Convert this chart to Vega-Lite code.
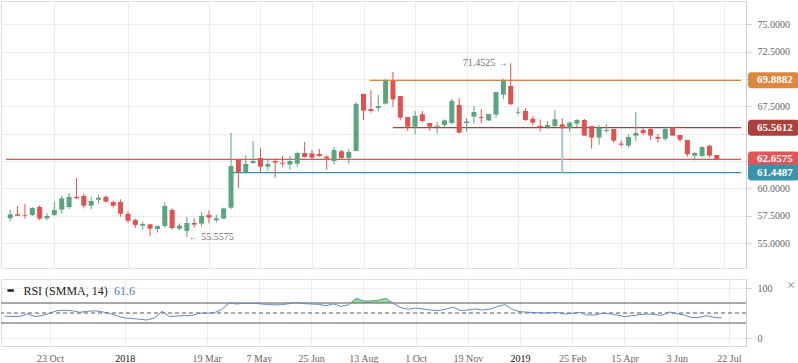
{
  "$schema": "https://vega.github.io/schema/vega-lite/v6.json",
  "padding": 0,
  "spacing": 8,
  "background": "white",
  "config": {
    "font": "Liberation Serif",
    "view": {"stroke": "#dedede"},
    "axis": {"labelFont": "Liberation Serif", "labelFontSize": 10, "labelColor": "#666", "gridColor": "#ececec", "domainColor": "#d0d0d0", "tickColor": "#d0d0d0"}
  },
  "datasets": {
    "candles": [
      {"d":"2017-09-11","o":57.27,"h":58.03,"l":57.02,"c":57.63,"r":43.3},
      {"d":"2017-09-18","o":57.63,"h":58.39,"l":57.48,"c":57.51,"r":43},
      {"d":"2017-09-25","o":57.57,"h":58.58,"l":57.24,"c":57.51,"r":43.5},
      {"d":"2017-10-02","o":57.57,"h":58.27,"l":57.48,"c":58.21,"r":48},
      {"d":"2017-10-09","o":58.30,"h":58.46,"l":57.08,"c":57.24,"r":42.7},
      {"d":"2017-10-16","o":57.27,"h":57.75,"l":57.08,"c":57.48,"r":45},
      {"d":"2017-10-23","o":57.57,"h":58.76,"l":57.48,"c":58.03,"r":50},
      {"d":"2017-10-30","o":58.06,"h":59.37,"l":57.69,"c":59.10,"r":54.7},
      {"d":"2017-11-06","o":58.30,"h":59.58,"l":58.09,"c":59.22,"r":55.5},
      {"d":"2017-11-13","o":59.22,"h":60.96,"l":59.06,"c":59.10,"r":54.5},
      {"d":"2017-11-20","o":59.31,"h":59.55,"l":58.18,"c":58.42,"r":51.3},
      {"d":"2017-11-27","o":58.42,"h":59.25,"l":58.06,"c":58.85,"r":53.5},
      {"d":"2017-12-04","o":58.97,"h":59.40,"l":58.61,"c":59.16,"r":54.3},
      {"d":"2017-12-11","o":59.22,"h":59.37,"l":58.70,"c":58.79,"r":52.5},
      {"d":"2017-12-18","o":58.76,"h":58.88,"l":58.24,"c":58.42,"r":49},
      {"d":"2017-12-25","o":58.76,"h":59.00,"l":57.42,"c":57.69,"r":44},
      {"d":"2018-01-01","o":57.66,"h":57.91,"l":56.87,"c":57.05,"r":40},
      {"d":"2018-01-08","o":57.11,"h":57.24,"l":56.38,"c":56.66,"r":39},
      {"d":"2018-01-15","o":56.60,"h":56.93,"l":56.23,"c":56.75,"r":37.5},
      {"d":"2018-01-22","o":56.72,"h":56.78,"l":55.62,"c":56.32,"r":36},
      {"d":"2018-01-29","o":56.29,"h":56.60,"l":55.95,"c":56.56,"r":40},
      {"d":"2018-02-05","o":56.56,"h":58.76,"l":56.41,"c":58.39,"r":53.3},
      {"d":"2018-02-12","o":58.03,"h":58.18,"l":56.23,"c":56.38,"r":43},
      {"d":"2018-02-19","o":56.32,"h":56.81,"l":56.20,"c":56.60,"r":44},
      {"d":"2018-02-26","o":56.11,"h":57.39,"l":55.5575,"c":56.84,"r":44.7},
      {"d":"2018-03-05","o":56.84,"h":57.27,"l":56.41,"c":56.69,"r":44.7},
      {"d":"2018-03-12","o":56.78,"h":57.84,"l":56.50,"c":57.48,"r":50},
      {"d":"2018-03-19","o":57.57,"h":58.00,"l":56.81,"c":57.33,"r":49.5},
      {"d":"2018-03-26","o":57.08,"h":57.63,"l":56.87,"c":57.27,"r":50.5},
      {"d":"2018-04-02","o":57.24,"h":58.24,"l":57.18,"c":58.18,"r":56.7},
      {"d":"2018-04-09","o":58.24,"h":65.07,"l":58.10,"c":62.05,"r":70},
      {"d":"2018-04-16","o":62.66,"h":62.70,"l":60.07,"c":61.50,"r":68},
      {"d":"2018-04-23","o":61.50,"h":63.03,"l":61.35,"c":62.24,"r":69.3},
      {"d":"2018-04-30","o":62.33,"h":64.34,"l":62.27,"c":62.51,"r":69},
      {"d":"2018-05-07","o":62.79,"h":63.70,"l":61.50,"c":61.99,"r":68.7},
      {"d":"2018-05-14","o":61.99,"h":62.76,"l":61.63,"c":62.24,"r":67},
      {"d":"2018-05-21","o":62.51,"h":62.76,"l":60.99,"c":62.36,"r":66.2},
      {"d":"2018-05-28","o":62.36,"h":62.97,"l":61.99,"c":62.27,"r":66.7},
      {"d":"2018-06-04","o":62.18,"h":62.97,"l":61.72,"c":62.51,"r":68.5},
      {"d":"2018-06-11","o":62.27,"h":63.37,"l":61.99,"c":63.24,"r":70.7},
      {"d":"2018-06-18","o":63.24,"h":64.25,"l":62.82,"c":62.88,"r":68.7},
      {"d":"2018-06-25","o":63.21,"h":63.52,"l":62.63,"c":62.82,"r":68},
      {"d":"2018-07-02","o":63.15,"h":63.61,"l":62.88,"c":62.97,"r":67.2},
      {"d":"2018-07-09","o":62.91,"h":63.03,"l":61.72,"c":62.73,"r":64.7},
      {"d":"2018-07-16","o":62.51,"h":63.79,"l":62.18,"c":63.52,"r":68},
      {"d":"2018-07-23","o":63.40,"h":63.52,"l":62.70,"c":62.79,"r":63.3},
      {"d":"2018-07-30","o":62.79,"h":63.61,"l":62.27,"c":63.34,"r":66.5},
      {"d":"2018-08-06","o":63.43,"h":67.91,"l":63.40,"c":67.73,"r":79.3},
      {"d":"2018-08-13","o":68.64,"h":68.64,"l":66.26,"c":67.12,"r":74},
      {"d":"2018-08-20","o":67.27,"h":69.01,"l":66.93,"c":67.09,"r":74},
      {"d":"2018-08-27","o":67.36,"h":68.55,"l":67.03,"c":67.54,"r":75.5},
      {"d":"2018-09-03","o":67.76,"h":70.01,"l":67.67,"c":69.86,"r":79.3},
      {"d":"2018-09-10","o":69.83,"h":70.65,"l":67.45,"c":68.15,"r":69.5},
      {"d":"2018-09-17","o":68.46,"h":68.46,"l":66.23,"c":66.48,"r":61},
      {"d":"2018-09-24","o":66.54,"h":66.54,"l":65.26,"c":65.65,"r":57.5},
      {"d":"2018-10-01","o":65.65,"h":67.09,"l":64.95,"c":66.63,"r":60},
      {"d":"2018-10-08","o":66.78,"h":67.09,"l":66.02,"c":66.17,"r":58},
      {"d":"2018-10-15","o":65.99,"h":65.99,"l":65.26,"c":65.65,"r":56},
      {"d":"2018-10-22","o":65.65,"h":66.08,"l":65.01,"c":65.75,"r":54.7},
      {"d":"2018-10-29","o":65.81,"h":66.32,"l":65.56,"c":66.23,"r":57.3},
      {"d":"2018-11-05","o":65.99,"h":68.21,"l":65.87,"c":68.00,"r":62},
      {"d":"2018-11-12","o":67.64,"h":68.24,"l":65.04,"c":65.10,"r":55},
      {"d":"2018-11-19","o":65.99,"h":66.45,"l":65.20,"c":66.14,"r":56},
      {"d":"2018-11-26","o":66.57,"h":67.54,"l":65.93,"c":66.99,"r":58},
      {"d":"2018-12-03","o":66.54,"h":67.24,"l":65.96,"c":66.45,"r":56},
      {"d":"2018-12-10","o":66.23,"h":66.81,"l":66.17,"c":66.81,"r":58},
      {"d":"2018-12-17","o":66.75,"h":68.82,"l":66.48,"c":68.82,"r":63.3},
      {"d":"2018-12-24","o":68.58,"h":70.04,"l":68.18,"c":69.86,"r":66.7},
      {"d":"2018-12-31","o":69.37,"h":71.4525,"l":67.60,"c":67.70,"r":57},
      {"d":"2019-01-07","o":66.90,"h":67.45,"l":66.72,"c":66.97,"r":52.7},
      {"d":"2019-01-14","o":67.09,"h":67.35,"l":66.17,"c":66.26,"r":51.5},
      {"d":"2019-01-21","o":66.37,"h":66.63,"l":65.79,"c":66.02,"r":50.8},
      {"d":"2019-01-28","o":65.73,"h":66.30,"l":65.20,"c":65.63,"r":50},
      {"d":"2019-02-04","o":65.61,"h":66.17,"l":65.44,"c":65.80,"r":50.5},
      {"d":"2019-02-11","o":65.71,"h":67.16,"l":65.62,"c":66.32,"r":51.3},
      {"d":"2019-02-18","o":65.87,"h":66.41,"l":65.50,"c":65.50,"r":48},
      {"d":"2019-02-25","o":65.50,"h":66.11,"l":65.19,"c":66.02,"r":49.5},
      {"d":"2019-03-04","o":65.93,"h":66.35,"l":65.62,"c":66.26,"r":51.3},
      {"d":"2019-03-11","o":66.26,"h":66.35,"l":64.83,"c":64.83,"r":46},
      {"d":"2019-03-18","o":65.71,"h":65.71,"l":63.64,"c":64.65,"r":46},
      {"d":"2019-03-25","o":64.65,"h":65.80,"l":64.00,"c":65.56,"r":49.5},
      {"d":"2019-04-01","o":65.26,"h":65.90,"l":65.10,"c":65.35,"r":48.5},
      {"d":"2019-04-08","o":65.44,"h":65.44,"l":64.19,"c":64.37,"r":46},
      {"d":"2019-04-15","o":64.10,"h":64.40,"l":63.82,"c":64.00,"r":42.7},
      {"d":"2019-04-22","o":63.91,"h":64.95,"l":63.73,"c":64.71,"r":44.5},
      {"d":"2019-04-29","o":64.83,"h":66.99,"l":64.34,"c":65.07,"r":46.7},
      {"d":"2019-05-06","o":65.35,"h":65.50,"l":64.92,"c":65.07,"r":48},
      {"d":"2019-05-13","o":65.44,"h":65.56,"l":64.43,"c":64.83,"r":47},
      {"d":"2019-05-20","o":64.71,"h":64.98,"l":64.19,"c":64.55,"r":45.3},
      {"d":"2019-05-27","o":64.55,"h":65.56,"l":64.34,"c":65.44,"r":52},
      {"d":"2019-06-03","o":65.56,"h":65.56,"l":64.83,"c":64.83,"r":48.7},
      {"d":"2019-06-10","o":64.89,"h":64.89,"l":64.28,"c":64.46,"r":46},
      {"d":"2019-06-17","o":64.43,"h":64.43,"l":62.91,"c":63.12,"r":40.7},
      {"d":"2019-06-24","o":63.00,"h":63.36,"l":62.57,"c":63.24,"r":41.3},
      {"d":"2019-07-01","o":62.97,"h":63.85,"l":62.82,"c":63.79,"r":44.7},
      {"d":"2019-07-08","o":63.91,"h":64.00,"l":62.82,"c":63.00,"r":41.3},
      {"d":"2019-07-15","o":63.06,"h":63.06,"l":62.66,"c":62.66,"r":40}
    ],
    "levels": [
      {"n":"69.8882","v":69.8882,"d":"2018-08-19","e":"2019-08-07"},
      {"n":"65.5612","v":65.5612,"d":"2018-09-10","e":"2019-08-07"},
      {"n":"62.6575","v":62.6575,"d":"2017-09-07","e":"2019-08-07"},
      {"n":"61.4487","v":61.4487,"d":"2018-04-10","e":"2019-08-07"}
    ],
    "overbought": [
      {"d":"2018-08-01","r":70},
      {"d":"2018-08-06","r":79.3},
      {"d":"2018-08-13","r":74},
      {"d":"2018-08-20","r":74},
      {"d":"2018-08-27","r":75.5},
      {"d":"2018-09-03","r":79.3},
      {"d":"2018-09-09","r":70}
    ]
  },
  "vconcat": [
    {
      "width": 745,
      "height": 267,
      "encoding": {
        "x": {
          "field": "d", "type": "temporal", "title": null,
          "scale": {"type": "utc", "domain": [{"year":2017,"month":9,"date":7,"utc":true},{"year":2019,"month":8,"date":7,"utc":true}]},
          "axis": {
            "values": [
              {"year":2017,"month":10,"date":23,"utc":true},
              {"year":2018,"month":1,"date":1,"utc":true},
              {"year":2018,"month":3,"date":19,"utc":true},
              {"year":2018,"month":5,"date":7,"utc":true},
              {"year":2018,"month":6,"date":25,"utc":true},
              {"year":2018,"month":8,"date":13,"utc":true},
              {"year":2018,"month":10,"date":1,"utc":true},
              {"year":2018,"month":11,"date":19,"utc":true},
              {"year":2019,"month":1,"date":7,"utc":true},
              {"year":2019,"month":2,"date":25,"utc":true},
              {"year":2019,"month":4,"date":15,"utc":true},
              {"year":2019,"month":6,"date":3,"utc":true},
              {"year":2019,"month":7,"date":22,"utc":true}
            ],
            "labels": false, "ticks": false, "domain": false, "grid": true
          }
        },
        "y": {
          "field": "v", "type": "quantitative", "title": null,
          "scale": {"domain": [52.72, 77.15], "nice": false, "zero": false},
          "axis": {"orient": "right", "values": [55, 57.5, 60, 62.5, 65, 67.5, 70, 72.5, 75], "labelExpr": "(datum.value == 62.5 || datum.value == 65 || datum.value == 70) ? '' : format(datum.value, '.4f')", "grid": true, "tickSize": 5, "labelPadding": 6, "domainColor": "#cccccc"}
        }
      },
      "layer": [
        {
          "data": {"name": "levels"},
          "mark": {"type": "rule", "strokeWidth": 1.3},
          "encoding": {
            "x2": {"field": "e"},
            "color": {"field": "n", "type": "nominal", "legend": null,
              "scale": {"domain": ["69.8882","65.5612","62.6575","61.4487"], "range": ["#dc8840","#ab413d","#e05656","#3d92ab"]}}
          }
        },
        {
          "data": {"values": [{"d":"2019-02-18","v":65.6,"v2":61.4487}]},
          "mark": {"type": "rule", "strokeWidth": 2, "color": "#aebfd9"},
          "encoding": {"y2": {"field": "v2"}}
        },
        {
          "data": {"name": "candles"},
          "mark": {"type": "rule", "strokeWidth": 1},
          "encoding": {
            "y": {"field": "l", "type": "quantitative", "title": null},
            "y2": {"field": "h"},
            "color": {"condition": {"test": "datum.c >= datum.o", "value": "#5aa57f"}, "value": "#e0524f"}
          }
        },
        {
          "data": {"name": "candles"},
          "mark": {"type": "bar", "size": 5},
          "encoding": {
            "y": {"field": "o", "type": "quantitative", "title": null},
            "y2": {"field": "c"},
            "color": {"condition": {"test": "datum.c >= datum.o", "value": "#5aa57f"}, "value": "#e0524f"}
          }
        },
        {
          "data": {"values": [{"d":"2018-12-31","v":71.4525,"t":"71.4525 →"}]},
          "mark": {"type": "text", "align": "right", "baseline": "middle", "dx": -3, "fontSize": 10, "color": "#6f6f6f"},
          "encoding": {"text": {"field": "t"}}
        },
        {
          "data": {"values": [{"d":"2018-02-26","v":55.5575,"t":"← 55.5575"}]},
          "mark": {"type": "text", "align": "left", "baseline": "middle", "dx": 2, "fontSize": 10, "color": "#6f6f6f"},
          "encoding": {"text": {"field": "t"}}
        },
        {
          "data": {"name": "levels"},
          "mark": {"type": "rect", "xOffset": 2, "x2Offset": 53, "yOffset": -8, "y2Offset": 8, "cornerRadius": 3},
          "encoding": {
            "x": {"value": "width"},
            "x2": {"value": "width"},
            "y2": {"field": "v"},
            "color": {"field": "n", "type": "nominal", "legend": null}
          }
        },
        {
          "data": {"name": "levels"},
          "mark": {"type": "text", "align": "left", "baseline": "middle", "dx": 11, "fontSize": 11, "fontWeight": "bold", "color": "white"},
          "encoding": {
            "x": {"value": "width"},
            "text": {"field": "n"}
          }
        }
      ]
    },
    {
      "width": 745,
      "height": 67,
      "layer": [
        {
          "data": {"name": "overbought"},
          "mark": {"type": "area", "color": "#8ee68a", "opacity": 1},
          "encoding": {
            "x": {
              "field": "d", "type": "temporal", "title": null,
              "scale": {"type": "utc", "domain": [{"year":2017,"month":9,"date":7,"utc":true},{"year":2019,"month":8,"date":7,"utc":true}]},
              "axis": {
                "values": [
                  {"year":2017,"month":10,"date":23,"utc":true},
                  {"year":2018,"month":1,"date":1,"utc":true},
                  {"year":2018,"month":3,"date":19,"utc":true},
                  {"year":2018,"month":5,"date":7,"utc":true},
                  {"year":2018,"month":6,"date":25,"utc":true},
                  {"year":2018,"month":8,"date":13,"utc":true},
                  {"year":2018,"month":10,"date":1,"utc":true},
                  {"year":2018,"month":11,"date":19,"utc":true},
                  {"year":2019,"month":1,"date":7,"utc":true},
                  {"year":2019,"month":2,"date":25,"utc":true},
                  {"year":2019,"month":4,"date":15,"utc":true},
                  {"year":2019,"month":6,"date":3,"utc":true},
                  {"year":2019,"month":7,"date":22,"utc":true}
                ],
                "labelExpr": "utcFormat(datum.value, (utcmonth(datum.value) == 0 && utcdate(datum.value) <= 7) ? '%Y' : '%-d %b')",
                "labelColor": {"condition": {"test": "utcmonth(datum.value) == 0 && utcdate(datum.value) <= 7", "value": "#111111"}, "value": "#666666"},
                "ticks": false, "tickSize": 0, "labelPadding": 7, "grid": true, "domainColor": "#d8d8d8", "labelFontSize": 10
              }
            },
            "y": {
              "field": "r", "type": "quantitative", "title": null,
              "scale": {"domain": [-16, 118], "nice": false, "zero": false},
              "axis": {"orient": "right", "values": [0, 100], "format": "d", "grid": true, "tickSize": 5, "labelPadding": 6, "domainColor": "#cccccc"}
            },
            "y2": {"datum": 70}
          }
        },
        {
          "data": {"values": [{"v": 70}, {"v": 30}]},
          "mark": {"type": "rule", "color": "#555555", "strokeWidth": 1},
          "encoding": {"y": {"field": "v", "type": "quantitative", "title": null}}
        },
        {
          "data": {"values": [{"v": 50}]},
          "mark": {"type": "rule", "color": "#555555", "strokeWidth": 1, "strokeDash": [4, 3]},
          "encoding": {"y": {"field": "v", "type": "quantitative", "title": null}}
        },
        {
          "data": {"name": "candles"},
          "mark": {"type": "line", "color": "#6488c4", "strokeWidth": 1},
          "encoding": {
            "x": {"field": "d", "type": "temporal", "title": null},
            "y": {"field": "r", "type": "quantitative", "title": null}
          }
        },
        {
          "data": {"values": [{}]},
          "mark": {"type": "rule", "color": "#222222", "strokeWidth": 2.5},
          "encoding": {
            "x": {"datum": {"year":2017,"month":9,"date":13,"utc":true}, "type": "temporal"},
            "x2": {"datum": {"year":2017,"month":9,"date":19,"utc":true}},
            "y": {"datum": 95, "type": "quantitative"}
          }
        },
        {
          "data": {"values": [{"t": "RSI (SMMA, 14)"}]},
          "mark": {"type": "text", "align": "left", "baseline": "middle", "fontSize": 12, "color": "#222222"},
          "encoding": {
            "x": {"datum": {"year":2017,"month":9,"date":28,"utc":true}, "type": "temporal"},
            "y": {"datum": 95, "type": "quantitative"},
            "text": {"field": "t"}
          }
        },
        {
          "data": {"values": [{"t": "61.6"}]},
          "mark": {"type": "text", "align": "left", "baseline": "middle", "fontSize": 12, "color": "#4a7fc0"},
          "encoding": {
            "x": {"datum": {"year":2017,"month":12,"date":22,"utc":true}, "type": "temporal"},
            "y": {"datum": 95, "type": "quantitative"},
            "text": {"field": "t"}
          }
        },
        {
          "data": {"values": [{"t": "×"}]},
          "mark": {"type": "text", "align": "center", "baseline": "middle", "fontSize": 15, "color": "#888888", "dx": 45},
          "encoding": {
            "x": {"value": "width"},
            "y": {"datum": 106, "type": "quantitative"},
            "text": {"field": "t"}
          }
        }
      ]
    }
  ]
}
